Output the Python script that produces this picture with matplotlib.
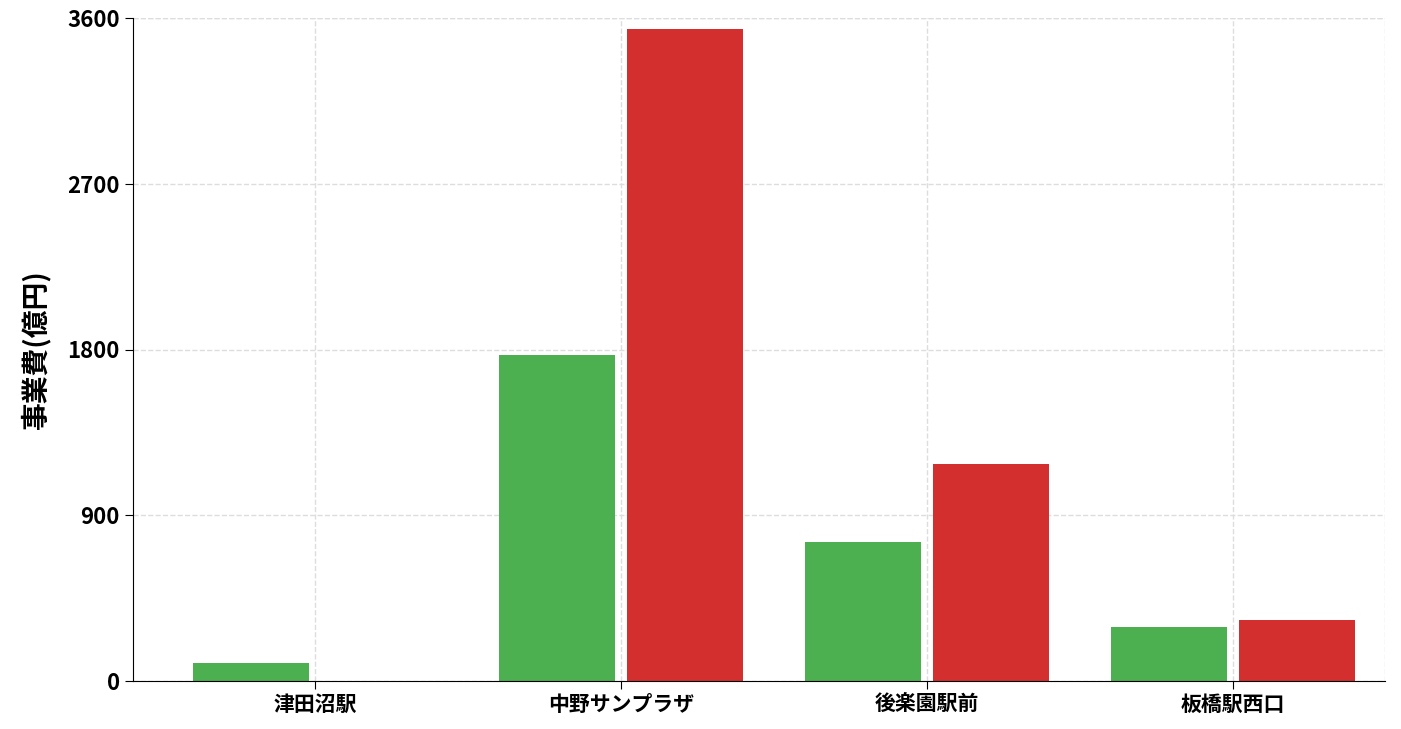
import matplotlib
matplotlib.use("Agg")
import matplotlib.pyplot as plt
import numpy as np

plt.rcParams['font.family'] = ['Noto Sans CJK JP', 'DejaVu Sans']

stations = ["津田沼駅", "中野サンプラザ", "後楽園駅前", "板橋駅西口"]
green_vals = [100, 1770, 755, 293]
red_vals = [0, 3540, 1178, 331]

fig = plt.figure(figsize=(14.01, 7.29), dpi=100)
ax = fig.add_axes([133 / 1401, 1 - 681 / 729, (1385 - 133) / 1401, (681 - 18) / 729])

x = np.arange(len(stations))
ax.bar(x - 0.21, green_vals, width=0.38, color="#4caf50")
ax.bar(x + 0.21, red_vals, width=0.38, color="#d32f2f")

ax.set_xlim(-0.595, 3.497)
ax.set_ylim(0, 3600)
ax.set_yticks([0, 900, 1800, 2700, 3600])
ax.set_xticks(x)
ax.set_xticklabels(stations, fontsize=15, fontweight="bold")
for lab in ax.get_yticklabels():
    lab.set_fontsize(16)
    lab.set_fontweight("bold")
ax.set_ylabel("事業費(億円)", fontsize=20, fontweight="bold", labelpad=12)

ax.grid(True, color="#dddddd", linestyle="--", linewidth=1)
ax.set_axisbelow(True)
ax.axvline(3.497, color="#dddddd", linestyle="--", linewidth=1)
ax.axhline(3600, color="#dddddd", linestyle="--", linewidth=1)
for s in ["top", "right"]:
    ax.spines[s].set_visible(False)
ax.tick_params(length=6)

plt.savefig("out.png")
